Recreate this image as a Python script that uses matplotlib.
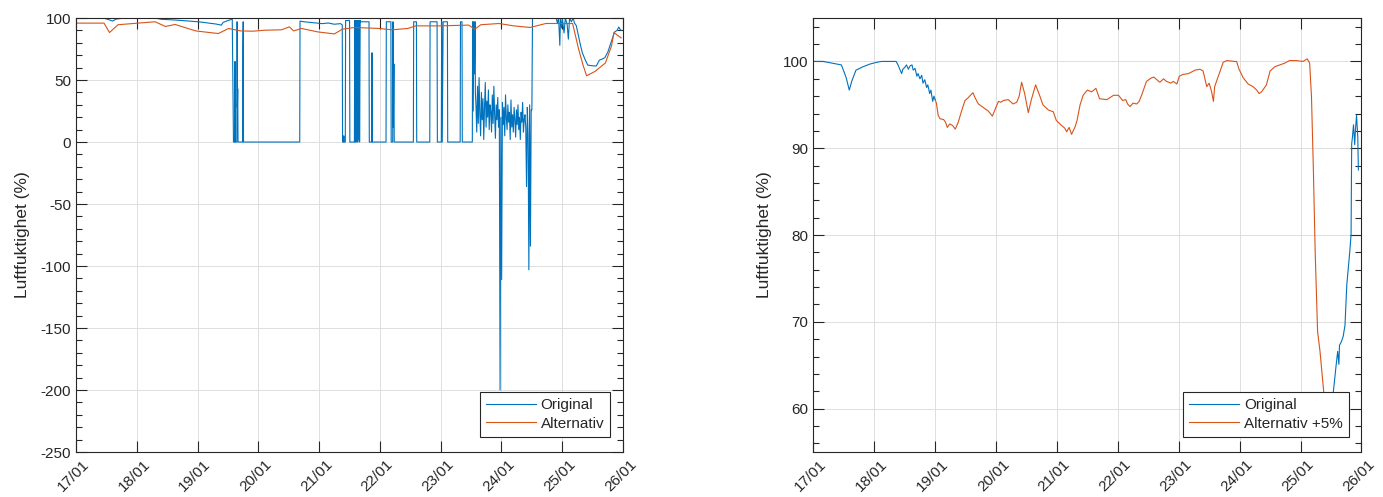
import numpy as np
import pandas as pd
import matplotlib
matplotlib.use('Agg')
import matplotlib.pyplot as plt
import matplotlib.dates as mdates
from matplotlib.ticker import MultipleLocator
from matplotlib.transforms import ScaledTranslation

plt.rcParams['font.family'] = ['Liberation Sans', 'DejaVu Sans']
plt.rcParams['axes.unicode_minus'] = False

# humidity, days counted from 17/01 00:00
orig_days = [
    0.00, 0.45, 0.55, 0.60, 0.66, 0.75, 1.30, 1.40, 1.60, 1.80, 2.00, 2.10, 2.20, 2.30, 2.39, 2.42, 2.50, 2.57,
    2.59, 2.61, 2.615, 2.62, 2.645, 2.65, 2.655, 2.66, 2.665, 2.74, 2.745, 2.75, 2.755,
    3.68, 3.685, 3.75, 3.85, 3.95, 4.05, 4.15, 4.25, 4.35, 4.38,
    4.385, 4.40, 4.405, 4.41, 4.43, 4.435, 4.50, 4.505,
    4.58, 4.585, 4.59, 4.60, 4.605, 4.615, 4.62, 4.63, 4.635, 4.645, 4.65, 4.66, 4.665, 4.675, 4.68, 4.82,
    4.825, 4.865, 4.87, 4.875, 5.10, 5.105, 5.18, 5.185, 5.21, 5.215, 5.22, 5.23, 5.235,
    5.55, 5.555, 5.60, 5.605, 5.82, 5.825, 5.94, 5.945, 6.01, 6.015, 6.025, 6.04, 6.11, 6.115,
    6.32, 6.325, 6.35, 6.355, 6.52, 6.525, 6.535, 6.545, 6.555, 6.565, 6.57,
]
orig_vals = [
    100, 100, 98.5, 97.5, 99.2, 99.7, 100, 99, 98.5, 97.8, 97.0, 96.5, 95.8, 95.2, 94.3, 96.5, 98.0, 99.2,
    0, 0, 65, 0, 0, 97, 28, 43, 0, 0, 76, 97, 0,
    0, 97.5, 97, 96.5, 96, 95.5, 96, 95, 95.5, 94.5,
    0, 0, 5, 0, 0, 98, 98, 0,
    0, 98, 0, 98, 0, 98, 0, 98, 0, 98, 2, 98, 0, 98, 97, 97,
    0, 0, 72, 0, 0, 97, 97, 0, 0, 97, 12, 63, 0,
    0, 97, 97, 0, 0, 97, 97, 0, 0, 97, 0, 97, 97, 0,
    0, 97, 97, 0, 0, 97, 25, 97, 55, 97, 40,
]

# faulty sensor period, logged every ~18 min
band_start = 6.58
band_step = 0.0128
band_vals = [
    30, 8, 45, 15, 52, 22, 5, 40, 18, 35, 2, 28,
    48, 12, 33, 20, 42, 10, 30, 25, 8, 38, 15, 45,
    22, 3, 30, 18, 36, 12, 26, -200, 20, -111, 32, 14,
    28, 5, 38, 20, 10, 30, 16, 24, 2, 34, 12, 22,
    8, 28, 18, 4, 26, 14, 30, 10, 20, 2, 24, 16,
    32, 8, 18, 22, 12, -36, 28, 6, -103, 30, -84, 26,
]

tail_days = [7.50, 7.51, 7.90, 7.92, 7.94, 7.96, 7.97, 7.99, 8.00, 8.03, 8.05, 8.08, 8.10, 8.12, 8.15, 8.18,
             8.20, 8.23, 8.27, 8.30, 8.33, 8.38, 8.42, 8.45, 8.50, 8.56, 8.61, 8.66, 8.70, 8.75, 8.80, 8.86,
             8.90, 8.93, 8.95, 8.97]
tail_vals = [26, 100, 100, 96, 100, 78, 99, 92, 100, 88, 100, 95, 83, 100, 97, 100,
             96, 94, 85, 78, 72, 66, 62, 61.8, 61.5, 61.3, 66, 67, 68, 72.6, 80, 88.7,
             90, 92.7, 91, 90]

alt_days = [0, 0.46, 0.55, 0.69, 1.30, 1.47, 1.63, 1.97, 2.34, 2.51, 2.71, 2.91, 3.11, 3.38, 3.51, 3.58,
            3.71, 3.98, 4.25, 4.38, 4.58, 4.99, 5.19, 5.46, 5.59, 5.99, 6.46, 6.56, 6.66, 6.96, 7.20, 7.47,
            7.73, 8.17, 8.27, 8.34, 8.40, 8.54, 8.71, 8.81, 8.85, 8.94, 8.97]
alt_vals = [95.9, 95.9, 88.3, 94.6, 97.0, 93.2, 94.8, 89.6, 87.5, 91.6, 89.6, 89.4, 90.2, 90.5, 92.9, 89.6,
            91.6, 88.8, 87.2, 91.0, 92.4, 91.6, 90.5, 91.6, 93.7, 93.7, 94.3, 91.0, 94.6, 95.6, 93.7, 92.4,
            95.6, 95.6, 74.7, 62.4, 53.4, 57.0, 63.8, 77.4, 88.3, 85.0, 84.0]

# combined series: valid original readings, alternative sensor +5% in between
r_orig1_days = [0, 0.16, 0.46, 0.52, 0.54, 0.59, 0.63, 0.70, 0.82, 0.93, 1.04, 1.12, 1.36, 1.39, 1.45, 1.47,
                1.50, 1.53, 1.56, 1.59, 1.62, 1.64, 1.67, 1.70, 1.72, 1.75, 1.78, 1.80, 1.83, 1.86, 1.88,
                1.91, 1.93, 1.96, 1.98, 2.00]
r_orig1_vals = [100, 100, 99.6, 98.5, 98.1, 96.7, 97.7, 99.0, 99.4, 99.7, 99.9, 100, 100, 99.6, 98.6, 99.1,
                99.3, 99.6, 99.1, 99.5, 99.6, 99.0, 99.2, 98.3, 98.6, 98.0, 98.4, 97.5, 97.9, 97.0, 97.3,
                96.3, 96.7, 95.4, 96.0, 95.6]

r_alt_days = [2.00, 2.02, 2.05, 2.08, 2.14, 2.17, 2.20, 2.24, 2.29, 2.33,
              2.38, 2.43, 2.49, 2.54, 2.62, 2.65, 2.71, 2.79, 2.87, 2.94,
              2.98, 3.04, 3.08, 3.12, 3.20, 3.28, 3.34, 3.38, 3.42, 3.47,
              3.53, 3.58, 3.65, 3.72, 3.77, 3.86, 3.94, 3.99, 4.08, 4.13,
              4.16, 4.20, 4.24, 4.30, 4.33, 4.38, 4.43, 4.50, 4.57, 4.64,
              4.70, 4.82, 4.93, 5.01, 5.08, 5.13, 5.16, 5.20, 5.25, 5.31,
              5.35, 5.39, 5.47, 5.55, 5.59, 5.64, 5.69, 5.75, 5.80, 5.87,
              5.91, 5.97, 6.01, 6.07, 6.16, 6.27, 6.35, 6.40, 6.46, 6.50,
              6.54, 6.57, 6.59, 6.65, 6.73, 6.79, 6.92, 6.95, 6.99, 7.06,
              7.14, 7.22, 7.28, 7.32, 7.36, 7.44, 7.50, 7.58, 7.66, 7.74,
              7.82, 7.93, 8.04, 8.11, 8.15, 8.18, 8.21, 8.24, 8.28, 8.32,
              8.38, 8.42]
r_alt_vals = [95.6, 95.2, 93.8, 93.4, 93.3, 93.0, 92.4, 92.8, 92.6, 92.2,
              93.0, 94.2, 95.5, 95.8, 96.4, 95.9, 95.1, 94.7, 94.3, 93.7,
              94.4, 95.4, 95.3, 95.5, 95.6, 95.1, 95.3, 96.0, 97.6, 96.3,
              94.1, 95.6, 97.3, 96.0, 95.0, 94.4, 94.2, 93.2, 92.6, 92.3,
              91.9, 92.4, 91.6, 92.5, 93.2, 95.0, 96.1, 96.7, 96.5, 96.9,
              95.7, 95.6, 96.1, 96.1, 95.5, 95.6, 95.1, 94.8, 95.2, 95.1,
              95.4, 96.1, 97.7, 98.1, 98.2, 97.9, 97.6, 98.0, 97.7, 97.5,
              97.7, 97.4, 98.3, 98.5, 98.6, 99.0, 99.1, 98.9, 97.1, 97.5,
              96.5, 95.4, 97.1, 98.3, 99.9, 100.1, 100, 100, 99.1, 98.1,
              97.4, 97.1, 96.7, 96.3, 96.5, 97.3, 98.9, 99.4, 99.6, 99.8,
              100.1, 100.1, 100, 100.3, 99.8, 95.9, 87.8, 78.2, 68.9, 66.6,
              62.0, 58.4]

r_orig2_days = [8.47, 8.54, 8.58, 8.61, 8.63, 8.64, 8.67, 8.70, 8.73, 8.76, 8.80, 8.81, 8.83, 8.84, 8.85,
                8.87, 8.89, 8.90, 8.92, 8.94, 8.95]
r_orig2_vals = [59.5, 62.0, 64.7, 66.6, 65.1, 67.3, 67.7, 68.3, 69.6, 74.3, 77.4, 78.2, 80.1, 90.5, 91.1,
                92.7, 90.4, 91.9, 93.8, 91.3, 87.5]

t0 = pd.Timestamp('2021-01-17')


def to_time(days):
    return t0 + pd.to_timedelta(np.asarray(days, dtype=float), unit='D')


band_days = band_start + band_step * np.arange(len(band_vals))
orig_t = to_time(np.concatenate([orig_days, band_days, tail_days]))
orig_v = np.concatenate([orig_vals, band_vals, tail_vals])

BLUE = '#0072BD'
ORANGE = '#D95319'
DARK = '#262626'

fig = plt.figure(figsize=(13.83, 4.97), dpi=100)
ax1 = fig.add_axes([0.055, 0.0905, 0.3955, 0.8732])
ax2 = fig.add_axes([0.5881, 0.0905, 0.3963, 0.8732])

ax1.plot(orig_t, orig_v, color=BLUE, lw=0.8, label='Original')
ax1.plot(to_time(alt_days), alt_vals, color=ORANGE, lw=0.8, label='Alternativ')
ax1.set_ylim(-250, 100)
ax1.yaxis.set_major_locator(MultipleLocator(50))
ax1.yaxis.set_minor_locator(MultipleLocator(10))

ax2.plot(to_time(r_orig1_days), r_orig1_vals, color=BLUE, lw=0.8, label='Original')
ax2.plot(to_time(r_alt_days), r_alt_vals, color=ORANGE, lw=0.8, label='Alternativ +5%')
ax2.plot(to_time(r_orig2_days), r_orig2_vals, color=BLUE, lw=0.8)
ax2.set_ylim(55, 105)
ax2.yaxis.set_major_locator(MultipleLocator(10))
ax2.yaxis.set_minor_locator(MultipleLocator(2))

# rotated date labels sit a little right of their tick
shift = ScaledTranslation(6 / 100, 0, fig.dpi_scale_trans)

for ax in (ax1, ax2):
    ax.set_xlim(t0, t0 + pd.Timedelta(days=9))
    ax.xaxis.set_major_locator(mdates.DayLocator())
    ax.xaxis.set_major_formatter(mdates.DateFormatter('%d/%m'))
    ax.grid(True, which='major', color='#dedede', lw=0.7)
    ax.set_axisbelow(True)
    ax.tick_params(which='both', direction='in', top=True, right=True, colors=DARK,
                   labelsize=11, width=0.8)
    ax.tick_params(which='major', length=8)
    ax.tick_params(which='minor', length=4.5)
    ax.tick_params(axis='x', pad=4)
    for sp in ax.spines.values():
        sp.set_color(DARK)
        sp.set_linewidth(0.8)
    for lbl in ax.get_xticklabels():
        lbl.set_rotation(45)
        lbl.set_ha('right')
        lbl.set_va('top')
        lbl.set_rotation_mode('anchor')
        lbl.set_transform(lbl.get_transform() + shift)
    ax.set_ylabel('Luftfuktighet (%)', fontsize=12.5, color=DARK, labelpad=8)
    leg = ax.legend(loc='lower right', bbox_to_anchor=(0.977, 0.035), borderaxespad=0,
                    fancybox=False, edgecolor=DARK, framealpha=1, fontsize=11,
                    handlelength=3.3, handletextpad=0.3, labelspacing=0.3, borderpad=0.4)
    leg.get_frame().set_linewidth(0.8)
    for txt in leg.get_texts():
        txt.set_color(DARK)

fig.savefig('out.png', dpi=100)
